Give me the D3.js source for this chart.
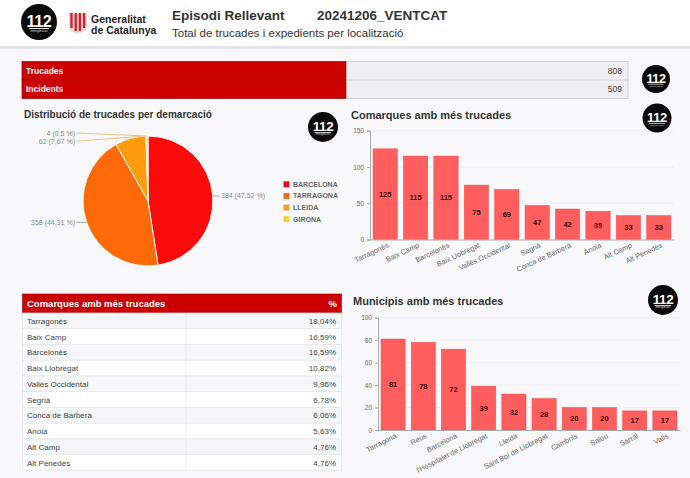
<!DOCTYPE html>
<html><head><meta charset="utf-8">
<script src="https://cdn.jsdelivr.net/npm/d3@7"></script>
<style>
html,body{margin:0;padding:0;background:#f8f8fa;}
svg{display:block;font-family:"Liberation Sans",Arial,sans-serif;}
</style></head>
<body>
<svg id="c" width="690" height="478"></svg>
<script>
// ---------- DATA ----------
const titleMain = "Episodi Rellevant";
const titleCode = "20241206_VENTCAT";
const subtitle = "Total de trucades i expedients per localització";

const totalsLabels = ["Trucades", "Incidents"];
const totalsValues = [808, 509];

const pieCategories = ["BARCELONA", "TARRAGONA", "LLEIDA", "GIRONA"];
const pieValues = [384, 358, 62, 4];
const pieLabels = ["384 (47,52 %)", "358 (44,31 %)", "62 (7,67 %)", "4 (0,5 %)"];

const comarques = ["Tarragonès", "Baix Camp", "Barcelonès", "Baix Llobregat", "Vallès Occidental", "Segrià", "Conca de Barberà", "Anoia", "Alt Camp", "Alt Penedès"];
const comarquesValues = [125, 115, 115, 75, 69, 47, 42, 39, 33, 33];
const comarquesPct = ["18,04%", "16,59%", "16,59%", "10,82%", "9,96%", "6,78%", "6,06%", "5,63%", "4,76%", "4,76%"];
const comarquesTicks = [0, 50, 100, 150];

const municipis = ["Tarragona", "Reus", "Barcelona", "l'Hospitalet de Llobregat", "Lleida", "Sant Boi de Llobregat", "Cambrils", "Salou", "Sarral", "Valls"];
const municipisValues = [81, 78, 72, 39, 32, 28, 20, 20, 17, 17];
const municipisTicks = [0, 20, 40, 60, 80, 100];

// ---------- STYLE ----------
const pieColors = ["#fb0a0a", "#ff6a08", "#ff9c0c", "#fbd23a"];
const legendColors = ["#d8141e", "#f06a1e", "#f2a02a", "#f2d040"];
const barColor = "#fe5e5e";
const red = "#cc0000";

const svg = d3.select("#c");

// header
svg.append("rect").attr("x",0).attr("y",0).attr("width",690).attr("height",47).attr("fill","#ffffff");
svg.append("rect").attr("x",0).attr("y",46).attr("width",690).attr("height",3).attr("fill","#e4e4e6");

function logo112(cx, cy, r){
  const g = svg.append("g").attr("transform",`translate(${cx},${cy})`);
  g.append("circle").attr("r", r).attr("fill","#0a0a0a");
  g.append("text").attr("text-anchor","middle").attr("y", r*0.25)
    .attr("font-size", r*0.9).attr("font-weight","bold").attr("fill","#fff")
    .attr("letter-spacing", -0.4).text("112");
  g.append("rect").attr("x",-r*0.55).attr("y",r*0.34).attr("width",r*1.1).attr("height",Math.max(0.6,r*0.05)).attr("fill","#fff");
  g.append("text").attr("text-anchor","middle").attr("y", r*0.55)
    .attr("font-size", r*0.17).attr("fill","#ddd").text("emergències");
}
logo112(39, 22, 18);

// Gencat logo
const gl = svg.append("g").attr("transform","translate(69,13)");
gl.append("path").attr("d","M0,0 H18 V14 Q18,20 9,20 Q0,20 0,14 Z").attr("fill","#f6d7d7");
d3.range(4).forEach(i=>{
  gl.append("path").attr("d",`M${1.3+i*4.2},0 h2.4 V${i==0||i==3?15:18} h-2.4 Z`).attr("fill","#d8202c");
});
svg.append("text").attr("x",91).attr("y",22.5).attr("font-size",10.5).attr("font-weight","bold").attr("fill","#222").text("Generalitat");
svg.append("text").attr("x",91).attr("y",33.5).attr("font-size",10.5).attr("font-weight","bold").attr("fill","#222").text("de Catalunya");

svg.append("text").attr("x",172).attr("y",19.5).attr("font-size",13.5).attr("font-weight","bold").attr("fill","#333").text(titleMain);
svg.append("text").attr("x",317).attr("y",19.5).attr("font-size",13.5).attr("font-weight","bold").attr("fill","#333").text(titleCode);
svg.append("text").attr("x",172).attr("y",37).attr("font-size",11.5).attr("fill","#333").text(subtitle);

// ---------- totals box ----------
const ty = d3.scaleBand().domain(totalsLabels).range([61.5, 98.5]);
svg.append("rect").attr("x",22).attr("y",61.5).attr("width",606).attr("height",37).attr("fill","#efeff1").attr("stroke","#c9c9cc").attr("stroke-width",0.8);
totalsLabels.forEach((l,i)=>{
  const y0 = ty(l);
  svg.append("rect").attr("x",22).attr("y",y0).attr("width",324).attr("height",ty.bandwidth()).attr("fill",red).attr("stroke","#9a0000").attr("stroke-width",0.6);
  svg.append("text").attr("x",26).attr("y",y0+ty.bandwidth()/2+3).attr("font-size",8.5).attr("font-weight","bold").attr("fill","#fff").text(l);
  svg.append("text").attr("x",622).attr("y",y0+ty.bandwidth()/2+3).attr("text-anchor","end").attr("font-size",8.5).attr("fill","#444").text(totalsValues[i]);
});
svg.append("line").attr("x1",346).attr("x2",628).attr("y1",ty(totalsLabels[1])).attr("y2",ty(totalsLabels[1])).attr("stroke","#d4d4d6").attr("stroke-width",0.8);
logo112(656, 79, 14);

// ---------- pie ----------
svg.append("text").attr("x",24).attr("y",118).attr("font-size",10).attr("font-weight","bold").attr("fill","#333").text("Distribució de trucades per demarcació");
logo112(323, 127, 15);

const cx = 148, cy = 201, R = 65;
const pie = d3.pie().sort(null).value(d=>d)(pieValues);
const arc = d3.arc().innerRadius(0).outerRadius(R);
const pg = svg.append("g").attr("transform",`translate(${cx},${cy})`);
pg.selectAll("path").data(pie).join("path").attr("d",arc)
  .attr("fill",(d,i)=>pieColors[i]).attr("stroke","#fff").attr("stroke-width",1);

// labels
const topOrder = pie.map((d,i)=>i).filter(i=>{const a=(pie[i].startAngle+pie[i].endAngle)/2; return Math.cos(a)>0.9 && Math.sin(a)<0;}).reverse();
pie.forEach((d,i)=>{
  const k = topOrder.indexOf(i);
  // small top slices: anchor near slice end (close to the top of the pie)
  const a = k >= 0 ? d.endAngle - Math.min(0.03, (d.endAngle-d.startAngle)/2) : (d.startAngle+d.endAngle)/2;
  const ax = cx + R*Math.sin(a), ay = cy - R*Math.cos(a);
  let lx, ly, anchor;
  if (k >= 0){
    lx = cx - R - 8; ly = cy - R - 3 + k*8.2; anchor = "end";
  } else if (Math.sin(a) >= 0){
    lx = cx + R + 8; ly = ay; anchor = "start";
  } else {
    lx = cx - R - 8; ly = ay; anchor = "end";
  }
  const lineStart = anchor === "end" ? lx + 1.5 : lx - 1.5;
  svg.append("polyline").attr("points",`${lineStart},${ly} ${ax},${ay}`)
    .attr("fill","none").attr("stroke", k>=0 ? "#e3c27a" : "#999").attr("stroke-width",0.9);
  svg.append("text").attr("x",lx).attr("y",ly+2.5).attr("text-anchor",anchor)
    .attr("font-size",7).attr("fill","#888").text(pieLabels[i]);
});

// legend
const ly = d3.scaleBand().domain(pieCategories).range([178.5, 225]);
pieCategories.forEach((c,i)=>{
  const y = ly(c)+ly.bandwidth()/2;
  svg.append("rect").attr("x",283.5).attr("y",y-3).attr("width",6).attr("height",6).attr("fill",legendColors[i]);
  svg.append("text").attr("x",293).attr("y",y+2.5).attr("font-size",7).attr("font-weight","bold").attr("fill","#666").text(c);
});

// ---------- bar chart helper ----------
function barChart(opts){
  const {cats, vals, ticks, x0, x1, yBottom, yTop, title, titleY, rot} = opts;
  const x = d3.scaleBand().domain(cats).range([x0, x1]).paddingInner(0.2).paddingOuter(0.1);
  const y = d3.scaleLinear().domain([0, ticks[ticks.length-1]]).range([yBottom, yTop]);
  svg.append("text").attr("x",opts.titleX).attr("y",titleY).attr("font-size",11).attr("font-weight","bold").attr("fill","#333").text(title);
  // grid
  svg.append("g").selectAll("line").data(ticks.slice(1)).join("line")
    .attr("x1",x0).attr("x2",x1).attr("y1",d=>y(d)).attr("y2",d=>y(d))
    .attr("stroke","#ececee").attr("stroke-width",0.8);
  // y axis
  const ya = svg.append("g").attr("transform",`translate(${x0},0)`)
    .call(d3.axisLeft(y).tickValues(ticks).tickSize(3).tickPadding(3));
  ya.select(".domain").attr("stroke","#aaa");
  ya.selectAll(".tick line").attr("stroke","#aaa");
  ya.selectAll("text").attr("font-size",6.5).attr("fill","#666").attr("font-family","Liberation Sans, Arial");
  // bars
  svg.append("g").selectAll("rect").data(vals).join("rect")
    .attr("x",(d,i)=>x(cats[i])).attr("width",x.bandwidth())
    .attr("y",d=>y(d)).attr("height",d=>y(0)-y(d))
    .attr("fill",barColor).attr("stroke","#f04848").attr("stroke-width",0.5);
  svg.append("g").selectAll("text").data(vals).join("text")
    .attr("x",(d,i)=>x(cats[i])+x.bandwidth()/2).attr("y",d=>(y(d)+y(0))/2+2.5)
    .attr("text-anchor","middle").attr("font-size",7.5).attr("font-weight","bold").attr("fill","#3a0505").text(d=>d);
  // x axis
  const xa = svg.append("g").attr("transform",`translate(0,${yBottom})`)
    .call(d3.axisBottom(x).tickSize(0).tickPadding(0));
  xa.select(".domain").attr("stroke","#aaa");
  xa.selectAll("text").attr("font-size",7.3).attr("fill","#666").attr("font-family","Liberation Sans, Arial")
    .attr("text-anchor","end").attr("dy",0)
    .attr("transform",`translate(4,7.5) rotate(${rot})`);
}

barChart({cats: comarques, vals: comarquesValues, ticks: comarquesTicks,
  x0: 370, x1: 674, yBottom: 239.5, yTop: 130.7, title: "Comarques amb més trucades", titleX: 351, titleY: 118.5, rot: -25});
logo112(657, 118, 14.5);

barChart({cats: municipis, vals: municipisValues, ticks: municipisTicks,
  x0: 378, x1: 680, yBottom: 430, yTop: 317.7, title: "Municipis amb més trucades", titleX: 353, titleY: 304.5, rot: -27});
logo112(663, 300, 15);

// ---------- table ----------
const tx0 = 22.5, tx1 = 341.5, tDiv = 186;
svg.append("rect").attr("x",tx0).attr("y",294).attr("width",tx1-tx0).attr("height",19).attr("fill",red).attr("stroke","#9a0000").attr("stroke-width",0.6);
svg.append("line").attr("x1",tDiv).attr("x2",tDiv).attr("y1",294).attr("y2",313).attr("stroke","#b00000").attr("stroke-width",0.6);
svg.append("text").attr("x",27).attr("y",307).attr("font-size",9.5).attr("font-weight","bold").attr("fill","#fff").text("Comarques amb més trucades");
svg.append("text").attr("x",337).attr("y",307).attr("text-anchor","end").attr("font-size",9.5).attr("font-weight","bold").attr("fill","#fff").text("%");
const ry = d3.scaleBand().domain(comarques).range([313, 470.4]);
comarques.forEach((c,i)=>{
  const y0 = ry(c);
  svg.append("rect").attr("x",tx0).attr("y",y0).attr("width",tx1-tx0).attr("height",ry.bandwidth())
    .attr("fill", i%2===0 ? "#f5f6f8" : "#ffffff").attr("stroke","#e3e4e7").attr("stroke-width",0.7);
  svg.append("line").attr("x1",tDiv).attr("x2",tDiv).attr("y1",y0).attr("y2",y0+ry.bandwidth()).attr("stroke","#e3e4e7").attr("stroke-width",0.7);
  svg.append("text").attr("x",27).attr("y",y0+ry.bandwidth()/2+3).attr("font-size",8).attr("fill","#444").text(c);
  svg.append("text").attr("x",336).attr("y",y0+ry.bandwidth()/2+3).attr("text-anchor","end").attr("font-size",8).attr("fill","#444").text(comarquesPct[i]);
});
</script>
</body></html>
